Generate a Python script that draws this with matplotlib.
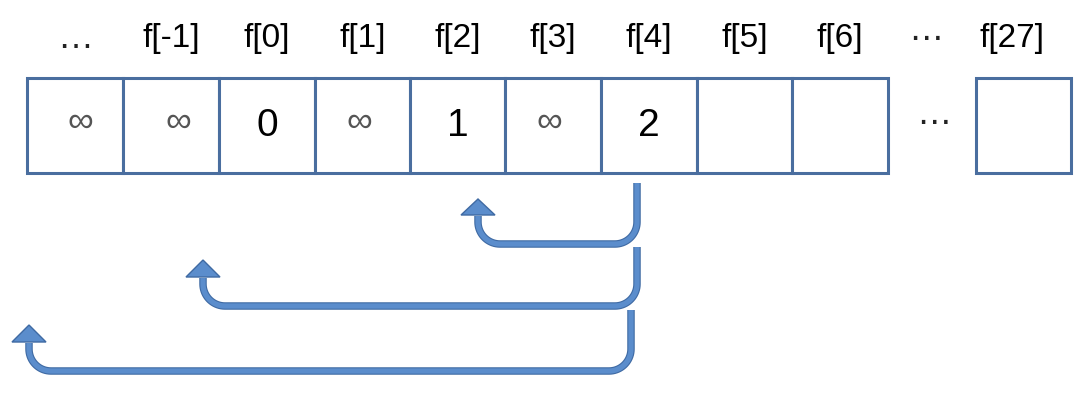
import numpy as np
import matplotlib
matplotlib.use("Agg")
import matplotlib.pyplot as plt
from matplotlib.patches import Rectangle, Polygon
import matplotlib.patheffects as pe

# ---- data ----
header_labels = ["…", "f[-1]", "f[0]", "f[1]", "f[2]", "f[3]", "f[4]", "f[5]", "f[6]", "⋯", "f[27]"]
cell_values = ["∞", "∞", "0", "∞", "1", "∞", "2", "", ""]
last_value = ""

# ---- layout (pixel coordinates) ----
W, H = 1087, 409
cell_edges = [27, 123, 219, 315, 410, 505, 601, 697, 792, 888]
last_cell = (976, 1071)
box_top, box_bot = 78, 173
label_y = 39
value_y = 126
inf_offsets = [5, 7, 0, -3, 0, -4, 0, 0, 0]
header_x = [(cell_edges[i] + cell_edges[i + 1]) / 2 for i in range(len(cell_edges) - 1)] + [926, 1012]
mid_dots_x = 934

# arrows: (x_start, y_start, y_horizontal, x_end, y_head_base, y_tip, radius)
arrows = [
    (637, 183, 244, 478, 215, 199, 22),
    (637, 247, 306, 203, 277, 260, 22),
    (631, 310, 371, 29, 342, 325, 22),
]

box_color = "#4a6e9f"
arrow_fill = "#5b8dcc"
arrow_edge = "#3f6aa3"
font = "Liberation Sans"

fig = plt.figure(figsize=(W / 100, H / 100), dpi=100)
ax = fig.add_axes([0, 0, 1, 1])
ax.set_xlim(0, W)
ax.set_ylim(H, 0)
ax.axis("off")

# cells
for i in range(len(cell_edges) - 1):
    x0, x1 = cell_edges[i], cell_edges[i + 1]
    ax.add_patch(Rectangle((x0, box_top), x1 - x0, box_bot - box_top, facecolor="white",
                           edgecolor=box_color, lw=2.2, zorder=2))
ax.add_patch(Rectangle((last_cell[0], box_top), last_cell[1] - last_cell[0], box_bot - box_top,
                       facecolor="white", edgecolor=box_color, lw=2.2, zorder=2))

# values
for i, v in enumerate(cell_values):
    if not v:
        continue
    cx = (cell_edges[i] + cell_edges[i + 1]) / 2
    if v == "∞":
        ax.text(cx + inf_offsets[i], value_y - 4, v, fontsize=26, color="#555555", ha="center",
                va="center", family=[font, "DejaVu Sans"], zorder=3)
    else:
        ax.text(cx, value_y, v, fontsize=28, color="black", ha="center", va="center",
                family=font, zorder=3)
ax.text(mid_dots_x, value_y - 3, "⋯", fontsize=24, color="#222222", ha="center", va="center",
        family="DejaVu Sans")

# header labels
for x, lab in zip(header_x, header_labels):
    if lab == "⋯":
        ax.text(x, label_y, lab, fontsize=24, color="#222222", ha="center", va="center",
                family="DejaVu Sans")
    elif lab == "…":
        ax.text(x, label_y, lab, fontsize=26, color="#222222", ha="center", va="center",
                family=[font, "DejaVu Sans"])
    else:
        ax.text(x, label_y, lab, fontsize=24, color="black", ha="center", va="center",
                family=[font, "DejaVu Sans"])

# arrows
def arrow_path(xs, ys, yh, xe, yb, r):
    pts = [(xs, ys), (xs, yh - r)]
    t = np.linspace(0, np.pi / 2, 20)
    pts += list(zip(xs - r + r * np.cos(t), yh - r + r * np.sin(t)))
    t = np.linspace(np.pi / 2, np.pi, 20)
    pts += list(zip(xe + r + r * np.cos(t), yh - r + r * np.sin(t)))
    pts += [(xe, yb + 1)]
    return np.array(pts)

for xs, ys, yh, xe, yb, yt, r in arrows:
    p = arrow_path(xs, ys, yh, xe, yb, r)
    ax.plot(p[:, 0], p[:, 1], color=arrow_fill, lw=3.8, solid_capstyle="butt",
            solid_joinstyle="round", zorder=4,
            path_effects=[pe.Stroke(linewidth=5.4, foreground=arrow_edge), pe.Normal()])
    ax.add_patch(Polygon([(xe, yt), (xe - 17, yb), (xe + 17, yb)], closed=True,
                         facecolor=arrow_fill, edgecolor=arrow_edge, lw=1.0, zorder=5))

fig.savefig("out.png", dpi=100, facecolor="white")
